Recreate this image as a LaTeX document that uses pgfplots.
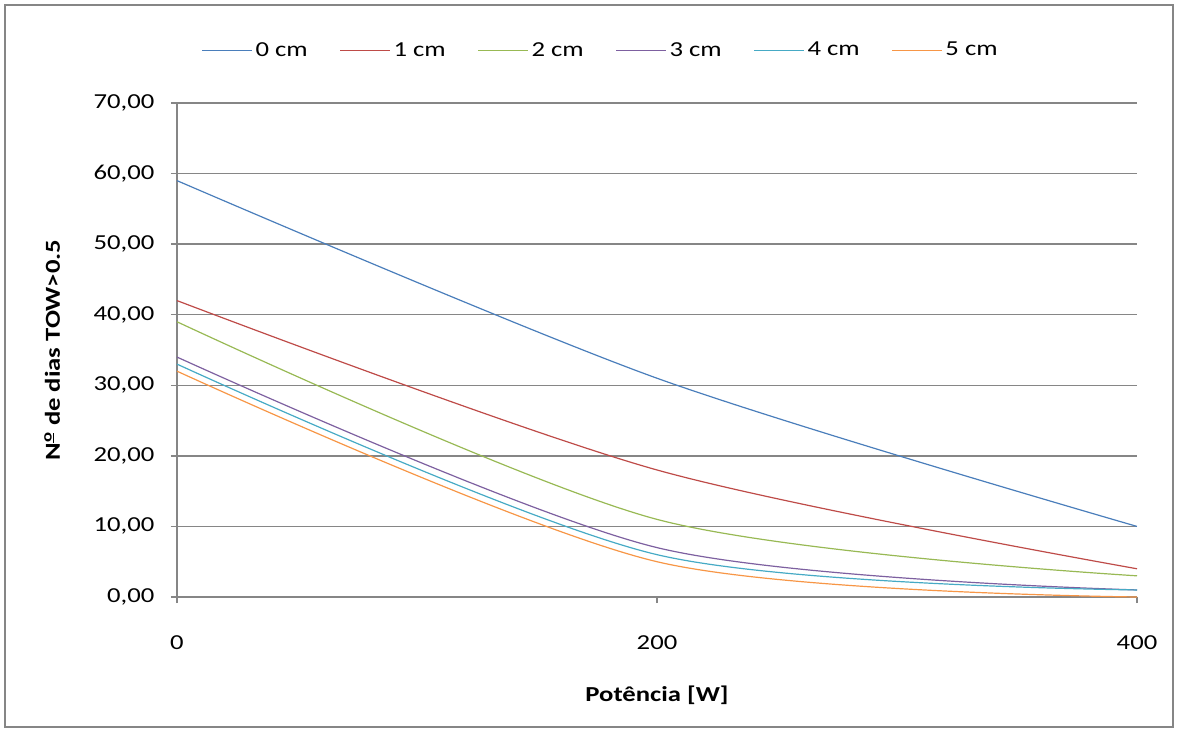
\documentclass[border=0pt]{standalone}
\usepackage{pgfplots}
\pgfplotsset{compat=1.18}
\usepackage{fontspec}
\setmainfont{Carlito}[FakeStretch=1.25]
\definecolor{gridgray}{HTML}{868686}
\definecolor{c0}{HTML}{4A7EBB}
\definecolor{c1}{HTML}{BE4B48}
\definecolor{c2}{HTML}{98B954}
\definecolor{c3}{HTML}{7D60A0}
\definecolor{c4}{HTML}{46AAC5}
\definecolor{c5}{HTML}{F79646}
\begin{document}
\begin{tikzpicture}[font=\fontsize{16bp}{19bp}\selectfont]
\path[use as bounding box] (-132.75bp,-102bp) rectangle (751.5bp,447.75bp);
\draw[gridgray,line width=1bp] (-129bp,-97.5bp) rectangle (747bp,444bp);
\begin{axis}[
  at={(0,0)}, anchor=south west,
  width=720bp, height=370.5bp, scale only axis,
  xmin=0, xmax=400, ymin=0, ymax=70,
  axis x line*=bottom, axis y line*=left,
  axis line style={gridgray,line width=1.1bp},
  xtick={0,200,400}, ytick={0,10,...,70},
  tick align=outside, major tick length=4.5bp,
  tick style={gridgray,line width=1.1bp},
  ymajorgrids, grid style={gridgray,line width=1.1bp},
  /pgf/number format/assume math mode=true,
  yticklabel style={/pgf/number format/fixed, /pgf/number format/fixed zerofill, /pgf/number format/precision=2, /pgf/number format/use comma, /pgf/number format/1000 sep={}, xshift=-9bp},
  xticklabel style={/pgf/number format/fixed, /pgf/number format/1000 sep={}, yshift=-21bp},
  xlabel={\bfseries Potência [W]},
  ylabel={\bfseries N\textsuperscript{\underline{o}} de dias TOW>0.5},
  xlabel style={at={(axis description cs:0.5,-0.198)}, anchor=center},
  ylabel style={at={(axis description cs:-0.13,0.5)}, anchor=center},
  legend columns=6,
  legend style={at={(axis description cs:0.4417,1.107)}, anchor=center, draw=none, fill=none,
    /tikz/every even column/.append style={column sep=22bp}},
  legend image code/.code={\draw[#1] (0bp,0bp) -- (37.5bp,0bp);},
  every axis plot/.append style={line width=0.9bp, smooth, tension=0.5},
]
\addplot[c0] coordinates {(0,59) (200,31) (400,10)};
\addlegendentry{0 cm}
\addplot[c1] coordinates {(0,42) (200,18) (400,4)};
\addlegendentry{1 cm}
\addplot[c2] coordinates {(0,39) (200,11) (400,3)};
\addlegendentry{2 cm}
\addplot[c3] coordinates {(0,34) (200,7) (400,1)};
\addlegendentry{3 cm}
\addplot[c4] coordinates {(0,33) (200,6) (400,1)};
\addlegendentry{4 cm}
\addplot[c5] coordinates {(0,32) (200,5) (400,0)};
\addlegendentry{5 cm}
\end{axis}
\end{tikzpicture}
\end{document}
